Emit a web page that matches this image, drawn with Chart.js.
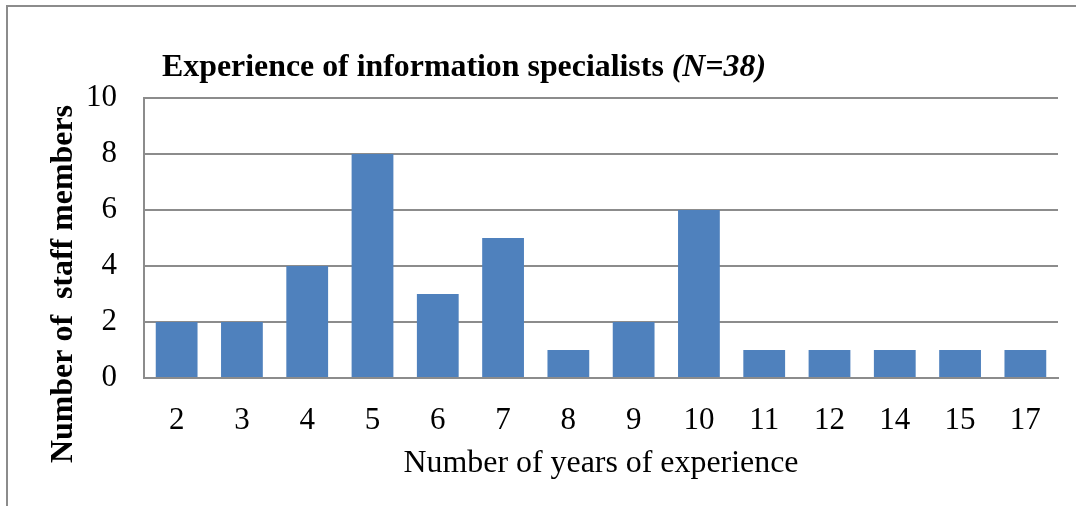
<!DOCTYPE html>
<html>
<head>
<meta charset="utf-8">
<script src="https://cdn.jsdelivr.net/npm/chart.js@4/dist/chart.umd.min.js"></script>
<style>
    body { margin: 0; background: #fff; }
    #wrap { position: relative; width: 1076px; height: 506px; overflow: hidden; }
    #frame {
        position: absolute; left: 6px; top: 5px; right: -10px; bottom: -10px;
        border-top: 2px solid #8c8c8c; border-left: 2px solid #8c8c8c;
    }
    canvas { position: absolute; left: 0; top: 0; }
</style>
</head>
<body>
<div id="wrap">
    <div id="frame"></div>
    <canvas id="expChart" width="1076" height="506"></canvas>
</div>
<script>
const years = ['2', '3', '4', '5', '6', '7', '8', '9', '10', '11', '12', '14', '15', '17'];
const staffCounts = [2, 2, 4, 8, 3, 5, 1, 2, 6, 1, 1, 1, 1, 1];
const yTicks = [0, 2, 4, 6, 8, 10];

const titleMain = 'Experience of information specialists ';
const titleItalic = '(N=38)';
const xTitle = 'Number of years of experience';
const yTitle = 'Number of  staff members';

const serif = "'Liberation Serif', 'Times New Roman', serif";

// draws the chart title and the axis titles (text only, squeezed a little like the original)
const textPlugin = {
    id: 'texts',
    afterDraw(chart) {
        const ctx = chart.ctx;
        ctx.save();
        ctx.fillStyle = '#000';
        ctx.textBaseline = 'alphabetic';

        // title
        ctx.font = 'bold 32px ' + serif;
        const w1 = ctx.measureText(titleMain).width;
        ctx.font = 'italic bold 32px ' + serif;
        const w2 = ctx.measureText(titleItalic).width;
        const sx = 604 / (w1 + w2);
        ctx.save();
        ctx.translate(162, 76);
        ctx.scale(sx, 1);
        ctx.textAlign = 'left';
        ctx.font = 'bold 32px ' + serif;
        ctx.fillText(titleMain, 0, 0);
        ctx.font = 'italic bold 32px ' + serif;
        ctx.fillText(titleItalic, w1, 0);
        ctx.restore();

        // x axis title
        ctx.save();
        ctx.font = '32px ' + serif;
        const wx = ctx.measureText(xTitle).width;
        ctx.translate(601, 472);
        ctx.scale(395 / wx, 1);
        ctx.textAlign = 'center';
        ctx.fillText(xTitle, 0, 0);
        ctx.restore();

        // y axis title
        ctx.save();
        ctx.font = 'bold 32px ' + serif;
        const wy = ctx.measureText(yTitle).width;
        ctx.translate(72, 284);
        ctx.rotate(-Math.PI / 2);
        ctx.scale(358 / wy, 1);
        ctx.textAlign = 'center';
        ctx.fillText(yTitle, 0, 0);
        ctx.restore();

        ctx.restore();
    }
};

new Chart(document.getElementById('expChart'), {
    type: 'bar',
    data: {
        labels: years,
        datasets: [{
            data: staffCounts,
            backgroundColor: '#4f81bd',
            borderWidth: 0,
            barPercentage: 0.64,
            categoryPercentage: 1.0
        }]
    },
    options: {
        responsive: false,
        animation: false,
        devicePixelRatio: 1,
        layout: { padding: { top: 98, right: 18, left: 0, bottom: 0 } },
        plugins: {
            legend: { display: false },
            title: { display: false },
            tooltip: { enabled: false }
        },
        scales: {
            x: {
                afterFit: scale => { scale.height = 128; },
                grid: { display: false, drawTicks: false },
                border: { display: true, color: '#8c8c8c', width: 2 },
                ticks: {
                    color: '#000',
                    padding: 24,
                    maxRotation: 0,
                    font: { family: serif, size: 31 }
                }
            },
            y: {
                min: 0,
                max: 10,
                afterFit: scale => { scale.width = 144; },
                afterBuildTicks: scale => { scale.ticks = yTicks.map(v => ({ value: v })); },
                grid: { color: '#8c8c8c', lineWidth: 2, drawTicks: false },
                border: { display: true, color: '#8c8c8c', width: 2 },
                ticks: {
                    color: '#000',
                    padding: 27,
                    font: { family: serif, size: 31 }
                }
            }
        }
    },
    plugins: [textPlugin]
});
</script>
</body>
</html>
